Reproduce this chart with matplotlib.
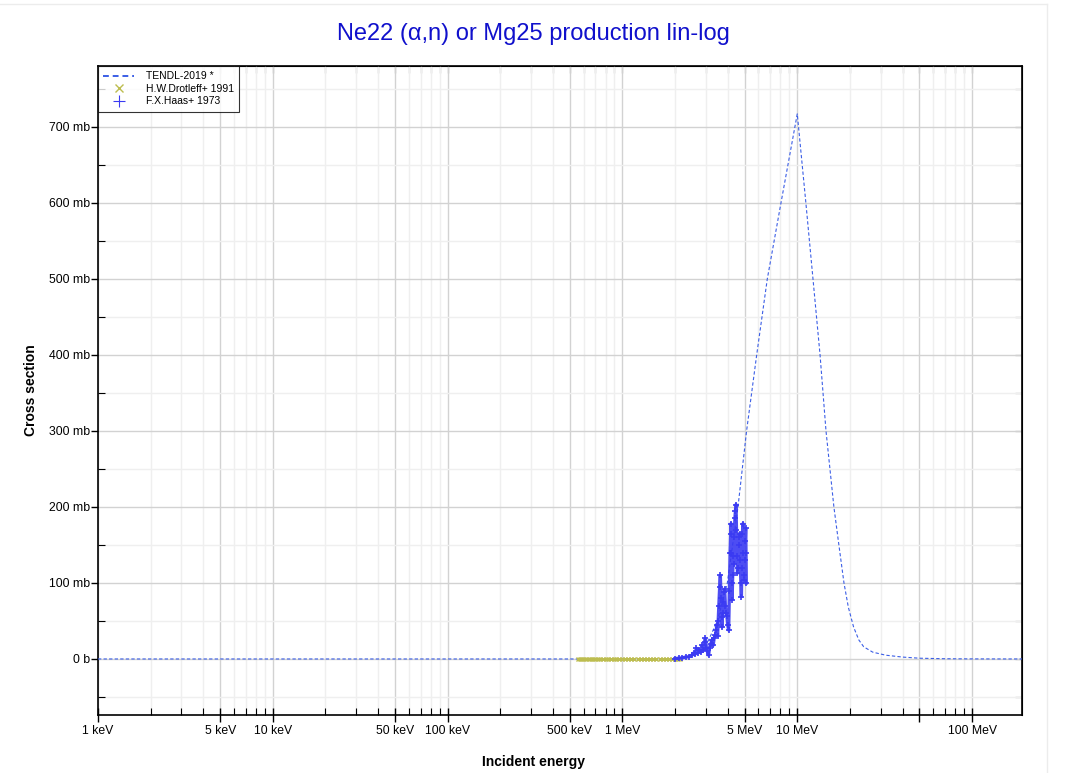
import numpy as np
import matplotlib
matplotlib.use("Agg")
import matplotlib.pyplot as plt
from matplotlib.ticker import FixedLocator, FuncFormatter
from matplotlib.lines import Line2D

plt.rcParams['font.family'] = ['Liberation Sans', 'DejaVu Sans']

# TENDL-2019 evaluation (energy in MeV, cross section in mb)
tendl_e = [0.001, 0.01, 0.1, 0.5, 1.0, 1.5, 2.0, 2.5, 2.93, 3.49, 3.98, 4.58,
           5.13, 5.86, 6.74, 8.07, 10.0, 11.2, 12.3, 13.5, 14.6, 16.2,
           17.3, 18.5, 19.6, 21.0, 22.5, 24.0, 27.0, 32.0, 40.0, 50.0, 70.0,
           100.0, 200.0]
tendl_xs = [0, 0, 0, 0, 0, 0.001, 0.3, 4, 12, 50, 100, 200,
            300, 400, 500, 600, 717, 600, 500, 400, 300, 200,
            150, 100, 68, 42, 25, 16, 9, 5, 2.5, 1, 0.3,
            0.1, 0]

# H.W.Drotleff+ 1991
drot_e = [0.555, 0.57, 0.585, 0.60, 0.62, 0.64, 0.66, 0.68, 0.70, 0.72,
          0.745, 0.77, 0.80, 0.83, 0.86, 0.89, 0.92, 0.96, 1.00, 1.04,
          1.08, 1.12, 1.17, 1.22, 1.27, 1.32, 1.38, 1.44, 1.50, 1.56,
          1.63, 1.70, 1.77, 1.85, 1.93, 2.01, 2.08, 2.13]
drot_xs = [0.0001, 0.0001, 0.0001, 0.0001, 0.0002, 0.0002, 0.0002, 0.0002,
           0.0003, 0.0003, 0.0004, 0.0004, 0.0005, 0.0006, 0.0007, 0.0008,
           0.001, 0.0012, 0.0015, 0.002, 0.0025, 0.003, 0.004, 0.005,
           0.006, 0.008, 0.01, 0.013, 0.016, 0.02, 0.03, 0.04, 0.06, 0.09,
           0.13, 0.2, 0.3, 0.4]

# F.X.Haas+ 1973
haas_e = [2.00, 2.10, 2.20, 2.30, 2.40, 2.50, 2.56, 2.60, 2.65, 2.70, 2.75,
          2.80, 2.85, 2.90, 2.95, 2.98, 3.02, 3.06, 3.11, 3.15, 3.20, 3.25,
          3.30, 3.35, 3.40, 3.44, 3.47, 3.50, 3.53, 3.56, 3.60, 3.63, 3.66,
          3.69, 3.71, 3.74, 3.78, 3.81, 3.84, 3.88, 3.92, 3.96, 4.00, 4.05,
          4.09, 4.13, 4.16, 4.18, 4.20, 4.22, 4.24, 4.27, 4.30, 4.33, 4.36,
          4.40, 4.43, 4.46, 4.49, 4.52, 4.55, 4.58, 4.62, 4.65, 4.68, 4.72,
          4.76, 4.79, 4.82, 4.86, 4.89, 4.92, 4.95, 4.98, 5.01, 5.04, 5.07,
          5.09, 5.11]
haas_xs = [0.5, 1, 1.5, 2.5, 3, 5, 8, 6, 14, 8, 12,
           9, 18, 12, 22, 27, 15, 10, 5, 15, 20, 25,
           18, 28, 31, 38, 45, 30, 50, 70, 95, 110, 80,
           55, 42, 60, 75, 88, 92, 70, 60, 56, 45, 38,
           90, 140, 165, 178, 140, 100, 78, 110, 135, 125, 160,
           185, 195, 203, 170, 135, 113, 120, 150, 160, 165, 130,
           100, 82, 120, 165, 178, 140, 110, 104, 130, 155, 172,
           140, 100]

x_major = [0.001, 0.005, 0.01, 0.05, 0.1, 0.5, 1, 5, 10, 50, 100]
x_labels = ['1 keV', '5 keV', '10 keV', '50 keV', '100 keV', '500 keV',
            '1 MeV', '5 MeV', '10 MeV', '', '100 MeV']
y_major = [0, 100, 200, 300, 400, 500, 600, 700]
y_minor = [-50, 50, 150, 250, 350, 450, 550, 650, 750]

tendl_col = '#3b5ee6'
haas_col = '#3a3af2'
drot_col = '#bdbd4f'

fig = plt.figure(figsize=(10.71, 7.73), dpi=100)
ax = fig.add_axes([98/1071, 1-715/773, (1022-98)/1071, (715-66)/773])
ax.set_xscale('log')
ax.set_xlim(0.001, 193)
ax.set_ylim(-73.7, 780)

ax.plot(tendl_e, tendl_xs, ls='--', dashes=(3, 2), color=tendl_col, lw=0.8,
        label='TENDL-2019 *', zorder=3)
ax.plot(drot_e, drot_xs, ls='none', marker='x', ms=3.5, mew=1.0,
        color=drot_col, label='H.W.Drotleff+ 1991', zorder=4)
ax.plot(haas_e, haas_xs, ls='-', lw=2.4, color=haas_col, alpha=0.9, zorder=4)
ax.plot(haas_e, haas_xs, ls='none', marker='+', ms=4.5, mew=1.2,
        color=haas_col, label='F.X.Haas+ 1973', zorder=5)

minor_x = [m * 10.0**d for d in range(-3, 3) for m in range(2, 10)
           if m != 5 and m * 10.0**d < 193]
ax.xaxis.set_major_locator(FixedLocator(x_major))
ax.xaxis.set_minor_locator(FixedLocator(minor_x))
ax.set_xticklabels(x_labels)
ax.yaxis.set_major_locator(FixedLocator(y_major))
ax.yaxis.set_minor_locator(FixedLocator(y_minor))
ax.yaxis.set_major_formatter(FuncFormatter(lambda v, p: '0 b' if v == 0 else '%d mb' % v))

ax.grid(which='major', color='#d2d2d2', lw=1.0)
ax.grid(which='minor', color='#efefef', lw=1.0)
ax.set_axisbelow(True)

ax.tick_params(axis='x', which='major', direction='inout', length=10, width=1,
               labelsize=8.8, pad=2)
ax.tick_params(axis='x', which='minor', direction='in', length=5, width=0.8)
ax.tick_params(axis='y', which='major', direction='out', length=5, width=1,
               labelsize=8.8, pad=1)
ax.tick_params(axis='y', which='minor', direction='in', length=5, width=0.8)
for s in ax.spines.values():
    s.set_linewidth(1.2)

top = ax.secondary_xaxis('top')
top.xaxis.set_major_locator(FixedLocator(x_major))
top.xaxis.set_minor_locator(FixedLocator(minor_x))
top.tick_params(which='both', direction='in', length=5, width=0.8,
                labeltop=False)
right = ax.secondary_yaxis('right')
right.yaxis.set_major_locator(FixedLocator(y_major))
right.yaxis.set_minor_locator(FixedLocator(y_minor))
right.tick_params(which='both', direction='in', length=5, width=0.8,
                  labelright=False)

ax.set_xlabel('Incident energy', fontsize=10, fontweight='bold')
ax.xaxis.set_label_coords((533-98)/(1022-98), -0.062)
ax.set_ylabel('Cross section', fontsize=10, fontweight='bold')
ax.yaxis.set_label_coords(-(98-38)/(1022-98), (715-390)/(715-66))

fig.text(533/1071, 1-34/773, 'Ne22 (α,n) or Mg25 production lin-log',
         ha='center', va='center', fontsize=17, color='#1010cc')

leg = ax.legend(loc='upper left', fontsize=7.5, frameon=True, fancybox=False,
                borderaxespad=0, handlelength=3.0, borderpad=0.5,
                labelspacing=0.25, handletextpad=1.1)
leg.get_frame().set_edgecolor('black')
leg.get_frame().set_linewidth(0.8)
lh = leg.get_lines()
lh[0].set_linewidth(1.4)
lh[0].set_dashes((3, 2))
lh[1].set_markersize(6)
lh[2].set_markersize(8)
lh[2].set_markeredgewidth(0.8)

fig.add_artist(Line2D([0, 1047/1071], [1-4/773, 1-4/773], color='#ececec', lw=1))
fig.add_artist(Line2D([1047/1071, 1047/1071], [0, 1-4/773], color='#ececec', lw=1))

fig.savefig('out.png', dpi=100)
